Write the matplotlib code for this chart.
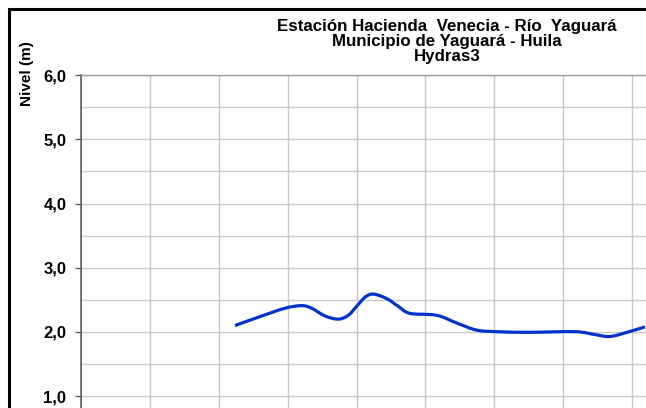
# Nivel del río - Estación Hacienda Venecia (Hydras3)

import matplotlib
matplotlib.use("Agg")
import numpy as np
import matplotlib.pyplot as plt
from matplotlib.patches import Rectangle, PathPatch
from matplotlib.path import Path
from matplotlib.ticker import MultipleLocator, FuncFormatter

plt.rcParams['font.family'] = ['Liberation Sans', 'DejaVu Sans']

# datos (posición en el eje x, nivel en m)
tiempo = [2.235, 2.573, 2.961, 3.203, 3.348, 3.541, 3.734, 3.880, 4.001,
          4.122, 4.242, 4.437, 4.605, 4.775, 5.163, 5.453, 5.743, 6.033,
          6.492, 7.170, 7.460, 7.678, 7.943, 8.186]
nivel = [2.10, 2.23, 2.37, 2.41, 2.37, 2.25, 2.20, 2.26, 2.40,
         2.54, 2.59, 2.52, 2.40, 2.29, 2.26, 2.14, 2.03, 2.005,
         1.995, 2.005, 1.96, 1.93, 2.00, 2.08]

titulo = ["Estación Hacienda  Venecia - Río  Yaguará",
          "Municipio de Yaguará - Huila",
          "Hydras3"]

W, H = 646, 408
fig = plt.figure(figsize=(W / 100, H / 100), dpi=100)

# eje (se sale de la figura por abajo y por la derecha, como el recorte)
left, right = 81, 701
top, bottom = 75, 460.5
ax = fig.add_axes([left / W, 1 - bottom / H, (right - left) / W, (bottom - top) / H])

# línea suavizada (curvas Bezier por los puntos, como la línea suavizada de Excel)
pts = np.column_stack([tiempo, nivel])
verts = [pts[0]]
codes = [Path.MOVETO]
for i in range(len(pts) - 1):
    p0 = pts[i - 1] if i > 0 else pts[i]
    p1, p2 = pts[i], pts[i + 1]
    p3 = pts[i + 2] if i + 2 < len(pts) else pts[i + 1]
    verts += [p1 + (p2 - p0) / 6, p2 - (p3 - p1) / 6, p2]
    codes += [Path.CURVE4] * 3
ax.add_patch(PathPatch(Path(verts, codes), fill=False, ec='#0033cc', lw=2.3,
                       capstyle='butt', joinstyle='round', zorder=3))

ax.set_xlim(0, 9)
ax.set_ylim(0, 6)
ax.xaxis.set_major_locator(MultipleLocator(1))
ax.yaxis.set_major_locator(MultipleLocator(1))
ax.yaxis.set_minor_locator(MultipleLocator(0.5))
ax.yaxis.set_major_formatter(FuncFormatter(lambda v, p: f"{v:.1f}".replace('.', ',')))
ax.grid(True, which='both', color='#c8c8c8', lw=1.0)
ax.set_axisbelow(True)
ax.tick_params(axis='y', which='major', length=4, width=1, color='#606060',
               pad=6.5, labelsize=12)
ax.tick_params(axis='y', which='minor', length=0)
ax.tick_params(axis='x', length=0, labelbottom=False)
for lbl in ax.get_yticklabels():
    lbl.set_fontweight('bold')

ax.spines['left'].set_color('#606060')
ax.spines['left'].set_linewidth(1.2)
ax.spines['top'].set_color('#a0a0a0')
ax.spines['top'].set_linewidth(1.0)
ax.spines['right'].set_visible(False)
ax.spines['bottom'].set_visible(False)

# títulos
ys = [26, 41.5, 57]
for t, y in zip(titulo, ys):
    fig.text(447 / W, 1 - y / H, t, ha='center', va='center',
             fontsize=12.2, fontweight='bold')

fig.text(27.5 / W, 1 - 74 / H, "Nivel (m)", rotation=90, ha='center',
         va='center', fontsize=11, fontweight='bold')

# borde negro del área del gráfico
fig.patches.append(Rectangle((9 / W, -0.2), 1.2, 1.2 - 8.5 / H,
                             transform=fig.transFigure, fill=False,
                             ec='black', lw=2.2))

fig.savefig("out.png", dpi=100)
